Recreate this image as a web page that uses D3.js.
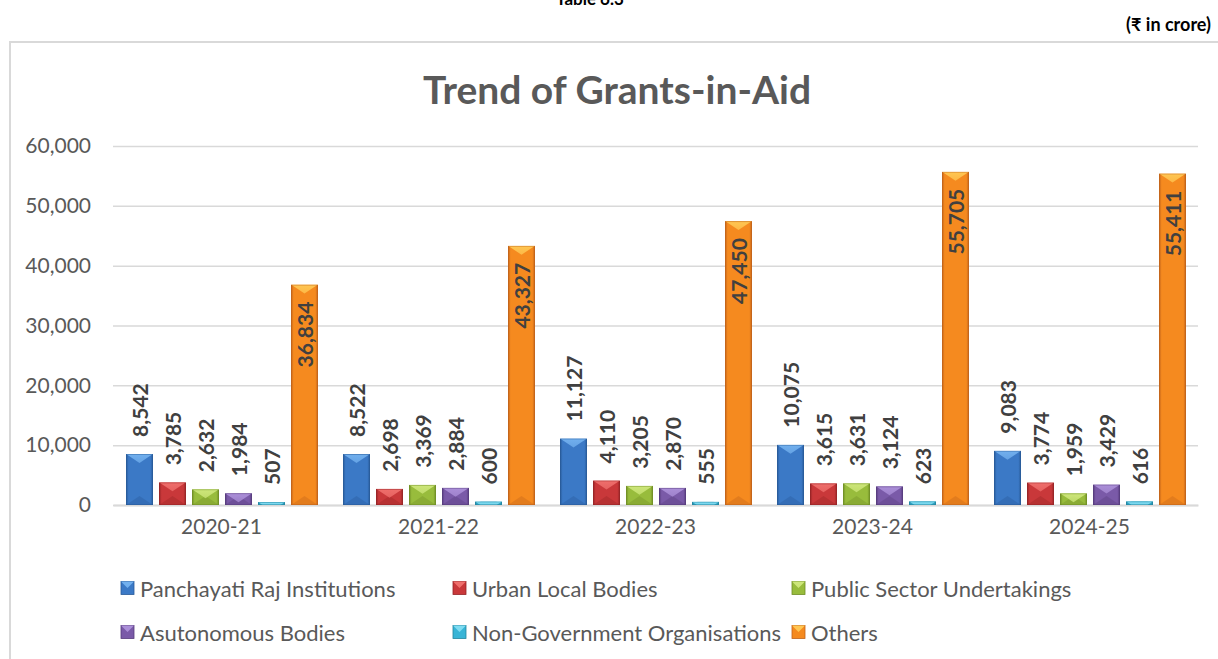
<!DOCTYPE html>
<html>
<head>
<meta charset="utf-8">
<script src="https://cdn.jsdelivr.net/npm/d3@7"></script>
<style>
  html, body { margin: 0; padding: 0; background: #fff; }
  svg { display: block; font-family: Lato, "Open Sans", sans-serif; }
</style>
</head>
<body>
<svg id="chart" width="1218" height="659"></svg>
<script>
// Grants-in-Aid by recipient category, ₹ crore
const years = ["2020-21", "2021-22", "2022-23", "2023-24", "2024-25"];
const seriesNames = [
  "Panchayati Raj Institutions",
  "Urban Local Bodies",
  "Public Sector Undertakings",
  "Asutonomous Bodies",
  "Non-Government Organisations",
  "Others"
];
const panchayatiRaj = [8542, 8522, 11127, 10075, 9083];
const urbanLocal    = [3785, 2698, 4110, 3615, 3774];
const publicSector  = [2632, 3369, 3205, 3631, 1959];
const autonomous    = [1984, 2884, 2870, 3124, 3429];
const nonGovt       = [507, 600, 555, 623, 616];
const others        = [36834, 43327, 47450, 55705, 55411];
const yTicks = [0, 10000, 20000, 30000, 40000, 50000, 60000];

const seriesValues = [panchayatiRaj, urbanLocal, publicSector, autonomous, nonGovt, others];

// base / light (top bevel) / dark (edges, bottom bevel)
const palette = [
  { mid: "#3b79c6", light: "#72b0ee", dark: "#285a98" },
  { mid: "#c9383a", light: "#ef6f6c", dark: "#952426" },
  { mid: "#98bc3c", light: "#cde67a", dark: "#6f8d25" },
  { mid: "#7a5aa8", light: "#ab8fd8", dark: "#563b7c" },
  { mid: "#38b4d6", light: "#7fdcf2", dark: "#22849f" },
  { mid: "#f58a1f", light: "#ffc753", dark: "#c0621a" }
];

const svg = d3.select("#chart");
const defs = svg.append("defs");

// Outer chart frame
svg.append("rect")
  .attr("x", 10).attr("y", 42).attr("width", 1230).attr("height", 640)
  .attr("fill", "none").attr("stroke", "#d9d9d9").attr("stroke-width", 2);

// Header texts
svg.append("text")
  .attr("x", 590).attr("y", 5)
  .attr("text-anchor", "middle")
  .attr("font-size", 17).attr("font-weight", "bold").attr("fill", "#000")
  .text("Table 6.3");
svg.append("text")
  .attr("x", 1211).attr("y", 31)
  .attr("text-anchor", "end")
  .attr("font-size", 18).attr("font-weight", "bold").attr("fill", "#000")
  .text("(₹ in crore)");

// Title
svg.append("text")
  .attr("x", 617).attr("y", 104)
  .attr("text-anchor", "middle")
  .attr("font-size", 39).attr("font-weight", "bold").attr("fill", "#595959")
  .text("Trend of Grants-in-Aid");

const plot = { left: 113, right: 1198, top: 146, bottom: 505 };

const x = d3.scaleBand().domain(years).range([plot.left, plot.right]).paddingInner(0).paddingOuter(0);
const y = d3.scaleLinear().domain([0, 60000]).range([plot.bottom, plot.top]);

// Each group of six bars inside a year band
const groupInset = 13;
const barStep = 33;
const barWidth = 27;
const xs = d3.scaleBand().domain(d3.range(seriesNames.length))
  .range([groupInset, groupInset + barStep * seriesNames.length]);

// Gridlines + y labels
const yAxis = d3.axisLeft(y).tickValues(yTicks).tickSize(-(plot.right - plot.left)).tickPadding(22)
  .tickFormat(d3.format(","));
const gy = svg.append("g").attr("transform", `translate(${plot.left},0)`).call(yAxis);
gy.select(".domain").remove();
gy.selectAll(".tick line").attr("stroke", "#d9d9d9").attr("stroke-width", 1.5);
gy.selectAll(".tick text").attr("fill", "#595959").attr("font-size", 21)
  .attr("font-family", "Lato, sans-serif");

// Category axis
const xAxis = d3.axisBottom(x).tickSize(0).tickPadding(14);
const gx = svg.append("g").attr("transform", `translate(0,${plot.bottom})`).call(xAxis);
gx.select(".domain").attr("stroke", "#d9d9d9").attr("stroke-width", 2);
gx.selectAll(".tick text").attr("fill", "#595959").attr("font-size", 21)
  .attr("font-family", "Lato, sans-serif");

// Gradients for bevelled bars
palette.forEach((c, i) => {
  const g = defs.append("linearGradient").attr("id", "body" + i)
    .attr("x1", "0").attr("x2", "1").attr("y1", "0").attr("y2", "0");
  g.append("stop").attr("offset", "0").attr("stop-color", c.dark);
  g.append("stop").attr("offset", "0.1").attr("stop-color", c.mid);
  g.append("stop").attr("offset", "0.5").attr("stop-color", c.mid);
  g.append("stop").attr("offset", "0.9").attr("stop-color", c.mid);
  g.append("stop").attr("offset", "1").attr("stop-color", c.dark);

  const t = defs.append("linearGradient").attr("id", "top" + i)
    .attr("x1", "0").attr("x2", "0").attr("y1", "0").attr("y2", "1");
  t.append("stop").attr("offset", "0").attr("stop-color", c.light);
  t.append("stop").attr("offset", "1").attr("stop-color", c.light).attr("stop-opacity", 0.75);
});

const bars = [];
years.forEach((yr, yi) => {
  seriesValues.forEach((vals, si) => {
    bars.push({ year: yr, yi, si, value: vals[yi] });
  });
});

const gBars = svg.append("g");
bars.forEach((b, k) => {
  const x0 = x(b.year) + xs(b.si);
  const y0 = y(b.value);
  const h = y(0) - y0;
  const c = palette[b.si];
  const bevel = 9;
  const cx = x0 + barWidth / 2;

  defs.append("clipPath").attr("id", "clip" + k)
    .append("rect").attr("x", x0).attr("y", y0).attr("width", barWidth).attr("height", h);

  const g = gBars.append("g").attr("clip-path", `url(#clip${k})`);
  g.append("rect")
    .attr("x", x0).attr("y", y0).attr("width", barWidth).attr("height", h)
    .attr("fill", `url(#body${b.si})`);
  // bottom bevel (darker)
  g.append("polygon")
    .attr("points", [[x0, y0 + h], [x0 + barWidth, y0 + h], [cx, y0 + h - bevel]].map(p => p.join(",")).join(" "))
    .attr("fill", c.dark).attr("opacity", 0.35);
  // top bevel (lighter)
  g.append("polygon")
    .attr("points", [[x0, y0], [x0 + barWidth, y0], [cx, y0 + bevel]].map(p => p.join(",")).join(" "))
    .attr("fill", `url(#top${b.si})`);
  // thin outline
  g.append("rect")
    .attr("x", x0 + 0.5).attr("y", y0 + 0.5).attr("width", barWidth - 1).attr("height", Math.max(0, h - 1))
    .attr("fill", "none").attr("stroke", c.dark).attr("stroke-opacity", 0.5).attr("stroke-width", 1);

  // value label, rotated
  const inside = b.si === 5;
  const ly = inside ? y0 + 17 : y0 - 17;
  svg.append("text")
    .attr("transform", `translate(${cx},${ly}) rotate(-90)`)
    .attr("text-anchor", inside ? "end" : "start")
    .attr("dominant-baseline", "central")
    .attr("font-size", 21).attr("font-weight", "bold").attr("fill", "#404040")
    .text(d3.format(",")(b.value));
});

// Legend
const legendPos = [
  [121, 588], [453, 588], [792, 588],
  [121, 632], [453, 632], [792, 632]
];
seriesNames.forEach((name, i) => {
  const [lx, ly] = legendPos[i];
  const c = palette[i];
  const s = 13;
  const g = svg.append("g");
  g.append("rect").attr("x", lx).attr("y", ly - s / 2).attr("width", s).attr("height", s)
    .attr("fill", c.mid).attr("stroke", c.dark).attr("stroke-width", 0.8);
  g.append("polygon")
    .attr("points", `${lx},${ly - s / 2} ${lx + s},${ly - s / 2} ${lx + s / 2},${ly}`)
    .attr("fill", c.light);
  g.append("text")
    .attr("x", lx + s + 6).attr("y", ly)
    .attr("dominant-baseline", "central")
    .attr("font-size", 22).attr("fill", "#595959")
    .text(name);
});
</script>
</body>
</html>
